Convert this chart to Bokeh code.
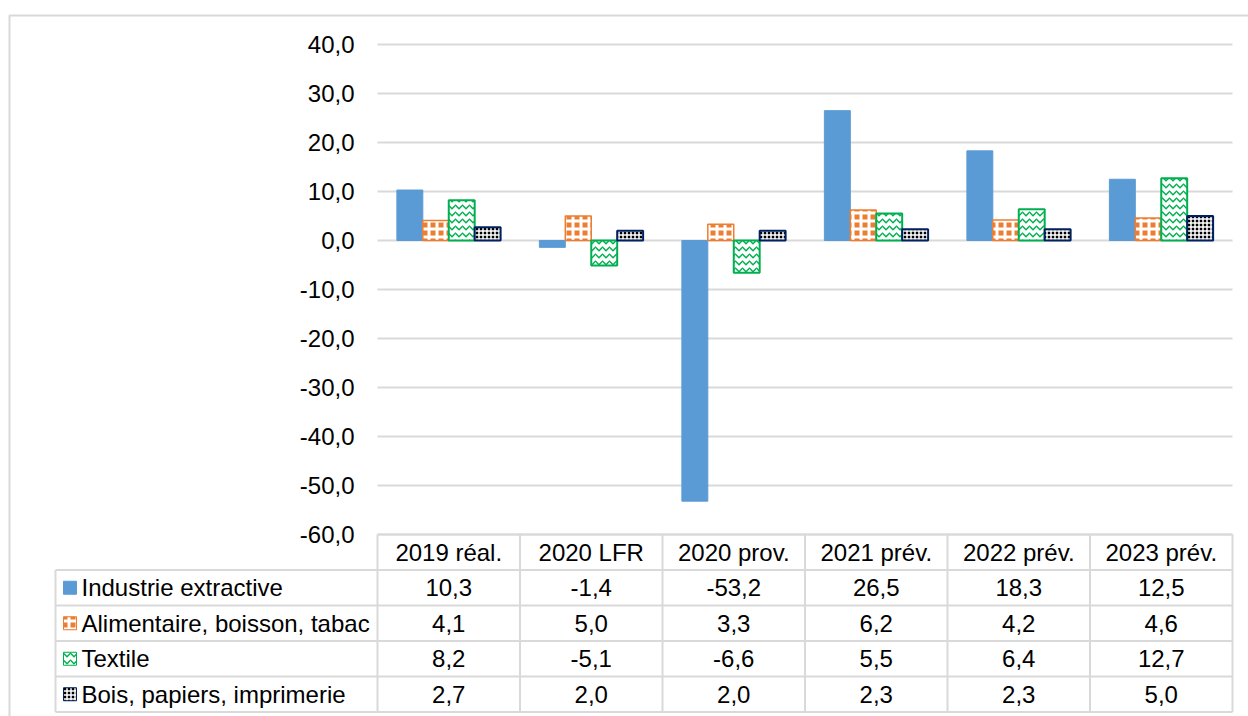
from bokeh.plotting import figure
from bokeh.models import Range1d, LinearAxis, FixedTicker, CustomJSTickFormatter
from bokeh.core.properties import value
from bokeh.embed import file_html
from bokeh.resources import INLINE

# ---------------- data ----------------
categories = ["2019 réal.", "2020 LFR", "2020 prov.", "2021 prév.", "2022 prév.", "2023 prév."]
series_names = ["Industrie extractive", "Alimentaire, boisson, tabac", "Textile", "Bois, papiers, imprimerie"]
industrie = [10.3, -1.4, -53.2, 26.5, 18.3, 12.5]
alimentaire = [4.1, 5.0, 3.3, 6.2, 4.2, 4.6]
textile = [8.2, -5.1, -6.6, 5.5, 6.4, 12.7]
bois = [2.7, 2.0, 2.0, 2.3, 2.3, 5.0]
y_ticks = [-60, -50, -40, -30, -20, -10, 0, 10, 20, 30, 40]

series_values = [industrie, alimentaire, textile, bois]

# ---------------- styles ----------------
FONT = "Liberation Sans"
FSIZE = "24px"
GRID = "#D9D9D9"
styles = [
    dict(fill_color="#5B9BD5", line_color="#5B9BD5", line_width=1),
    dict(fill_color="#ED7D31", line_color="#ED7D31", line_width=1.5,
         hatch_pattern="cross", hatch_color="white", hatch_scale=8, hatch_weight=3),
    dict(fill_color="white", line_color="#00B050", line_width=2,
         hatch_pattern="horizontal_wave", hatch_color="#00B050", hatch_scale=7, hatch_weight=1.5),
    dict(fill_color="black", line_color="#002060", line_width=2,
         hatch_pattern="cross", hatch_color="white", hatch_scale=4, hatch_weight=1.5),
]

# ---------------- layout (pixels -> data) ----------------
FIG_W, FIG_H = 1248, 716
X0_PX, PX_PER_CAT = 377.0, 142.5
Y0_PX, PX_PER_UNIT = 240.0, 4.9


def dx(px):
    return (px - X0_PX) / PX_PER_CAT


def dy(py):
    return (Y0_PX - py) / PX_PER_UNIT


p = figure(width=FIG_W, height=FIG_H, output_backend="svg", toolbar_location=None,
           x_range=Range1d(dx(0), dx(FIG_W)),
           y_range=Range1d(dy(FIG_H), dy(0)),
           x_axis_location=None, y_axis_location=None,
           min_border=0, outline_line_color=None)
p.grid.visible = False
p.background_fill_color = "white"
p.border_fill_color = "white"

ncat = len(categories)

# outer chart border
p.quad(left=[dx(9)], right=[dx(1300)], top=[dy(15)], bottom=[dy(800)],
       fill_color=None, line_color=GRID, line_width=2)

# gridlines
p.segment(x0=[0] * len(y_ticks), x1=[ncat] * len(y_ticks), y0=y_ticks, y1=y_ticks,
          line_color=GRID, line_width=2)

# bars
bw = 0.182
for k, (vals, st) in enumerate(zip(series_values, styles)):
    off = (k - 1.5) * bw
    xs = [i + 0.5 + off for i in range(ncat)]
    p.vbar(x=xs, top=vals, bottom=0, width=bw, **st)

# y axis
yaxis = LinearAxis(fixed_location=0, ticker=FixedTicker(ticks=y_ticks),
                   formatter=CustomJSTickFormatter(code="return tick.toFixed(1).replace('.', ',')"),
                   axis_line_color=None, major_tick_line_color=None, minor_tick_line_color=None,
                   major_tick_out=0, major_tick_in=0,
                   major_label_standoff=23, major_label_text_font_size=FSIZE,
                   major_label_text_font=FONT, major_label_text_color="black")
p.add_layout(yaxis, "left")

# table
row_px = [534, 569.5, 605, 640.5, 676, 711.5]
rows = [dy(r) for r in row_px]
leg_left = dx(55)
# horizontal lines
p.segment(x0=[0] + [leg_left] * (len(rows) - 1), x1=[ncat] * len(rows),
          y0=rows, y1=rows, line_color=GRID, line_width=2)
# vertical lines
p.segment(x0=list(range(ncat + 1)), x1=list(range(ncat + 1)),
          y0=[rows[0]] * (ncat + 1), y1=[rows[-1]] * (ncat + 1), line_color=GRID, line_width=2)
p.segment(x0=[leg_left], x1=[leg_left], y0=[rows[1]], y1=[rows[-1]], line_color=GRID, line_width=2)

centers = [(rows[i] + rows[i + 1]) / 2 for i in range(len(rows) - 1)]

# header
p.text(x=[i + 0.5 for i in range(ncat)], y=[centers[0]] * ncat, text=categories,
       text_align="center", text_baseline="middle", text_font=value(FONT),
       text_font_size=value(FSIZE), text_color="black")


def fmt(v):
    return f"{v:.1f}".replace(".", ",")


for k, (name, vals, st) in enumerate(zip(series_names, series_values, styles)):
    cy = centers[k + 1]
    p.text(x=[i + 0.5 for i in range(ncat)], y=[cy] * ncat, text=[fmt(v) for v in vals],
           text_align="center", text_baseline="middle", text_font=value(FONT),
           text_font_size=value(FSIZE), text_color="black")
    p.text(x=[dx(81)], y=[cy], text=[name], text_align="left", text_baseline="middle",
           text_font=value(FONT), text_font_size=value(FSIZE), text_color="black")
    mst = dict(st)
    mst["line_width"] = 1
    p.scatter(x=[dx(69.5)], y=[cy], marker="square", size=13, **mst)

open("out.html", "w").write(file_html(p, INLINE))
